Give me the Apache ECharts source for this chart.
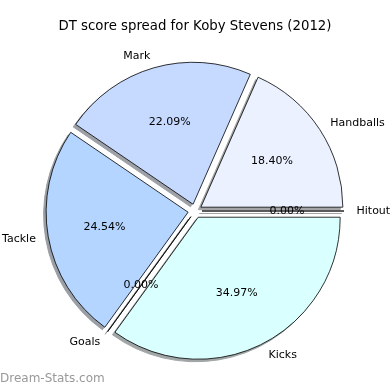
<!DOCTYPE html>
<html><head><meta charset="utf-8">
<script src="https://cdn.jsdelivr.net/npm/echarts@6/dist/echarts.min.js"></script>
<style>html,body{margin:0;padding:0;background:#fff}#c{width:390px;height:390px}</style>
</head><body><div id="c"></div>
<script>
const categories = ['Handballs', 'Mark', 'Tackle', 'Goals', 'Kicks', 'Hitout'];
const values = [18.40, 22.09, 24.54, 0.00, 34.97, 0.00];
const colors = ['#ebf1ff', '#c6d9ff', '#b3d5ff', '#c6e6ff', '#d9ffff', '#e6f0ff'];

const cx = 195, cy = 211, R = 142, off = 7;

function shadowColor(hex) {
  const n = parseInt(hex.slice(1), 16);
  const c = [(n >> 16) & 255, (n >> 8) & 255, n & 255];
  const s = c.map(v => Math.round(v * 0.3 * 0.5 + 255 * 0.5));
  return 'rgb(' + s.join(',') + ')';
}

const font = 'DejaVu Sans';
const mk = (fn) => categories.map((n, i) => fn(n, i));

const chart = echarts.init(document.getElementById('c'), null, {renderer: 'canvas'});
chart.setOption({
  animation: false,
  backgroundColor: '#fff',
  title: [
    {text: 'DT score spread for Koby Stevens (2012)', left: 'center', top: 20, padding: 0,
     textStyle: {fontFamily: font, fontSize: 13.3, fontWeight: 'normal', color: '#000'}},
    {text: 'Dream-Stats.com', left: 0, top: 373, padding: 0,
     textStyle: {fontFamily: font, fontSize: 12, fontWeight: 'normal', color: '#999'}}
  ],
  series: [
    {
      type: 'pie', z: 1, silent: true, startAngle: 0, clockwise: false,
      center: [cx - 2.5, cy + 2.5], radius: [0, R],
      selectedMode: 'multiple', selectedOffset: off, avoidLabelOverlap: false,
      label: {show: false}, labelLine: {show: false},
      emphasis: {disabled: true},
      data: mk((n, i) => ({name: n, value: values[i], selected: true,
        itemStyle: {color: shadowColor(colors[i]), borderColor: shadowColor(colors[i]), borderWidth: 1}}))
    },
    {
      type: 'pie', z: 2, silent: true, startAngle: 0, clockwise: false,
      center: [cx, cy], radius: [0, R],
      selectedMode: 'multiple', selectedOffset: off, avoidLabelOverlap: false,
      itemStyle: {borderColor: '#000', borderWidth: 0.8},
      label: {show: true, position: 'outside', formatter: '{b}', distanceToLabelLine: 0,
        overflow: 'none', fontFamily: font, fontSize: 11, color: '#000'},
      labelLine: {show: false, length: 12.5, length2: 0},
      emphasis: {disabled: true},
      data: mk((n, i) => ({name: n, value: values[i], selected: true, itemStyle: {color: colors[i]}}))
    },
    {
      type: 'pie', z: 3, silent: true, startAngle: 0, clockwise: false,
      center: [cx, cy], radius: [0, 164],
      selectedMode: 'multiple', selectedOffset: off, avoidLabelOverlap: false,
      itemStyle: {color: 'rgba(0,0,0,0)', borderWidth: 0},
      label: {show: true, position: 'inside', overflow: 'none',
        formatter: p => p.value.toFixed(2) + '%', fontFamily: font, fontSize: 11, color: '#000'},
      labelLine: {show: false},
      emphasis: {disabled: true},
      data: mk((n, i) => ({name: n, value: values[i], selected: true}))
    }
  ]
});
</script></body></html>
